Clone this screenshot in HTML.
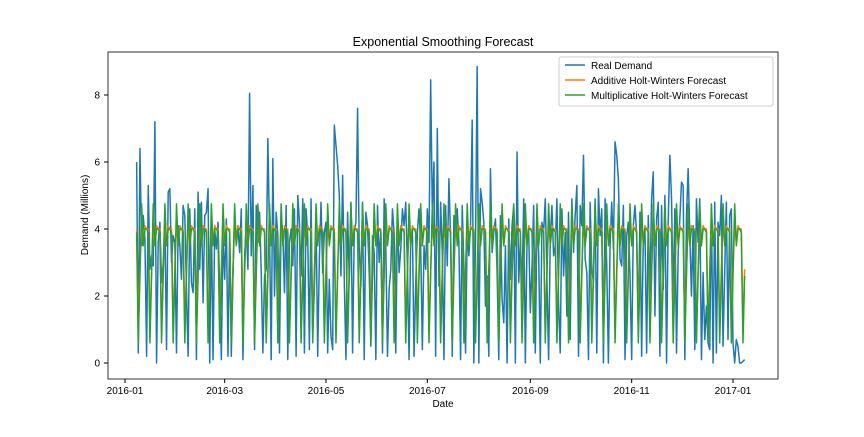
<!DOCTYPE html>
<html><head><meta charset="utf-8"><style>
body{margin:0;background:#fff;font-family:"Liberation Sans","DejaVu Sans",sans-serif}
svg text{font-family:"Liberation Sans","DejaVu Sans",sans-serif;fill:#000}
</style></head><body>
<svg id="chart" width="864" height="432" xmlns="http://www.w3.org/2000/svg">
<rect width="864" height="432" fill="#fff"/>
<text x="443" y="46" font-size="12.5" text-anchor="middle">Exponential Smoothing Forecast</text>
<g id="plot"></g>
<rect x="108" y="52" width="670" height="327" fill="none" stroke="#000" stroke-width="0.8"/>
<g id="axes"></g>
<text x="443" y="407" font-size="10" text-anchor="middle">Date</text>
<text transform="translate(88,215) rotate(-90)" font-size="10" text-anchor="middle">Demand (Millions)</text>
<g>
<rect x="559" y="57" width="214" height="49" fill="#fff" fill-opacity="0.8" stroke="#ccc" rx="2"/>
<line x1="565" y1="65" x2="585" y2="65" stroke="#1f77b4" stroke-width="1.5"/>
<text x="591" y="69" font-size="10">Real Demand</text>
<line x1="565" y1="80" x2="585" y2="80" stroke="#ff7f0e" stroke-width="1.5"/>
<text x="591" y="84" font-size="10">Additive Holt-Winters Forecast</text>
<line x1="565" y1="95" x2="585" y2="95" stroke="#2ca02c" stroke-width="1.5"/>
<text x="591" y="99" font-size="10">Multiplicative Holt-Winters Forecast</text>
</g>
</svg>
<script>
const startDate = "2016-01-08";
const realDemand = [
6.0,0.3,6.4,3.5,4.4,3.7,0.2, 5.3,2.8,3.2,2.9,7.2,0.0,3.6, 4.2,2.4,3.0,4.3,0.4,5.1,5.2, 3.0,3.8,3.6,0.3,4.1,3.5,2.5,
4.7,4.4,2.2,0.2,4.6,2.4,2.1, 4.6,0.1,5.1,2.8,4.8,1.8,4.4, 4.5,5.2,0.0,4.3,0.1,4.0,3.4, 4.2,2.3,0.1,3.8,2.5,4.3,0.2,
3.9,0.2,2.8,4.4,3.6,4.1,3.3,4.6,0.1,3.2,
4.1,2.8,8.05,3.2,5.3,0.4,4.7, 3.6,4.5,2.7,0.3,2.6,2.8,6.7, 3.9,0.1,6.1,2.0,4.5,3.8,0.3, 4.3,3.9,2.1,4.7,0.1,3.6,4.0,
2.9,4.6,0.2,5.0,4.2,2.6,4.9, 0.3,4.6,3.8,0.4,4.9,1.0,2.2,
4.4,0.2,3.1,4.8,2.7,3.9,4.2,0.3,2.5,
0.8,0.4,7.1,6.5,5.9,5.0,2.6, 5.6,2.5,0.1,4.5,2.4,4.8,0.3,
3.9,4.2,7.6,3.4,2.3,4.8,0.1, 4.5,4.1,2.7,0.5,3.8,3.3,0.1, 4.7,3.0,4.0,0.3,4.9,3.5,0.2, 2.2,2.8,4.6,3.9,0.3,4.5,2.7,
3.4,4.6,4.1,4.8,2.9,0.1,3.8, 4.0,0.2,2.4,3.9,4.6,3.5,0.4, 3.5,2.8,4.6,3.6,8.45,4.5,6.0,
0.2,7.0,2.3,4.8,3.3,0.1,4.7, 2.9,5.5,3.7,0.2,4.4,3.8,4.6, 3.6,0.1,4.7,2.9,0.3,4.0,3.2, 4.1,7.25,0.0,3.6,8.85,0.0,5.2,
4.8,4.2,1.7,2.6,0.2,5.8,3.3, 3.9,4.3,2.7,0.1,4.4,1.9,1.2, 3.5,0.0,4.3,2.5,4.1,4.7,0.0, 6.3,2.4,3.7,2.1,4.9,0.0,3.6,
4.0,1.5,2.9,4.7,0.3,4.3,3.3, 0.0,4.2,3.9,4.9,2.5,0.1,3.7, 4.7,3.2,3.5,4.9,1.8,0.3,4.6, 2.6,3.9,1.4,4.5,0.7,4.9,3.3,
4.4,5.3,0.2,4.7,4.1,6.2,3.1, 2.7,0.1,4.8,2.8,2.4,4.9,0.3, 5.2,3.8,4.6,0.0,4.9,2.9,0.0, 3.5,4.8,3.4,6.6,6.2,5.5,3.1,
2.9,4.7,0.1,3.8,4.2,2.6,0.1, 4.1,4.7,3.8,1.1,4.5,0.2,3.7, 4.0,0.3,4.4,2.1,4.9,5.7,1.4, 4.3,4.8,0.2,4.7,2.2,5.0,0.0,
4.2,6.2,4.9,1.9,4.6,0.3,3.3, 4.3,5.4,5.3,0.1,4.4,5.8,3.8, 2.0,4.1,0.4,4.9,3.6,4.9,0.1, 2.7,0.7,1.7,0.6,0.4,4.7,0.0,
4.8,0.3,4.2,3.8,5.0,0.5,2.7, 4.8,0.7,4.4,4.6,0.6,0.0,0.7, 0.5,0.0,0.0,0.05,0.1
];
const additiveWeekly = [4.0,1.0,2.8,4.1,3.6,4.1,4.0];
const multiplicativeWeekly = [3.9,0.6,2.6,4.75,3.5,4.0,4.0];
const yTicks = [0,2,4,6,8];
const xTickLabels = ["2016-01","2016-03","2016-05","2016-07","2016-09","2016-11","2017-01"];

const NS="http://www.w3.org/2000/svg";
const day0 = Date.UTC(2016,0,1);
const startOff = (Date.parse(startDate+"T00:00:00Z")-day0)/86400000;
function xScale(dayFromJan1){ return 125 + dayFromJan1*(733-125)/366; }
function yScale(v){ return 363 - v*33.5; }
const plot=document.getElementById('plot'), axes=document.getElementById('axes');

function seriesPath(vals,color,name){
  let d="";
  vals.forEach((v,i)=>{ d+=(i?"L":"M")+xScale(startOff+i).toFixed(2)+","+yScale(v).toFixed(2); });
  const p=document.createElementNS(NS,'path');
  p.setAttribute('d',d);p.setAttribute('fill','none');p.setAttribute('stroke',color);p.setAttribute('stroke-width','1.5');p.setAttribute('stroke-linejoin','round');
  
  
  plot.appendChild(p);
}
const addSeries=realDemand.map((_,i)=>additiveWeekly[i%7]);
const mulSeries=realDemand.map((_,i)=>multiplicativeWeekly[i%7]);
seriesPath(realDemand,'#1f77b4','real-demand-line');
seriesPath(addSeries,'#ff7f0e','additive-forecast-line');
seriesPath(mulSeries,'#2ca02c','multiplicative-forecast-line');

yTicks.forEach(t=>{
  const y=yScale(t);
  const l=document.createElementNS(NS,'line');
  l.setAttribute('x1',104);l.setAttribute('x2',108);l.setAttribute('y1',y);l.setAttribute('y2',y);l.setAttribute('stroke','#000');
  
  
  axes.appendChild(l);
  const tx=document.createElementNS(NS,'text');
  tx.setAttribute('x',100);tx.setAttribute('y',y+3.5);tx.setAttribute('font-size','10');tx.setAttribute('text-anchor','end');
  tx.textContent=t;
  
  
  axes.appendChild(tx);
});
xTickLabels.forEach(lbl=>{
  const [yy,mm]=lbl.split('-').map(Number);
  const dd=(Date.UTC(yy,mm-1,1)-day0)/86400000;
  const x=xScale(dd);
  const l=document.createElementNS(NS,'line');
  l.setAttribute('x1',x);l.setAttribute('x2',x);l.setAttribute('y1',379);l.setAttribute('y2',383);l.setAttribute('stroke','#000');
  
  
  axes.appendChild(l);
  const tx=document.createElementNS(NS,'text');
  tx.setAttribute('x',x);tx.setAttribute('y',394);tx.setAttribute('font-size','10');tx.setAttribute('text-anchor','middle');
  tx.textContent=lbl;
  
  
  axes.appendChild(tx);
});
</script>
</body></html>
